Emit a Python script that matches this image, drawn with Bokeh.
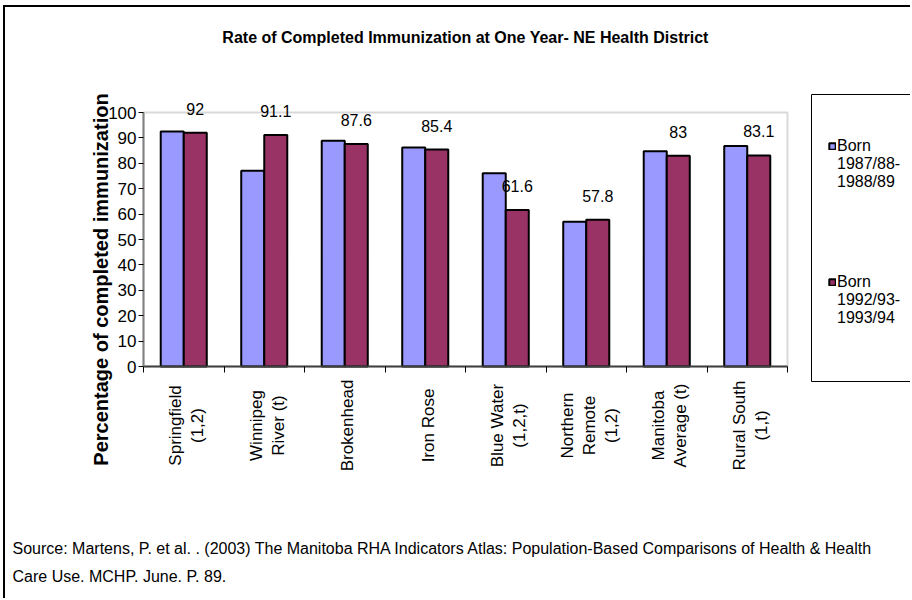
import numpy as np
from bokeh.plotting import figure
from bokeh.models import (Range1d, FixedTicker, LinearAxis, Legend, LegendItem,
                          BoxAnnotation, ColumnDataSource, Label)
from bokeh.core.properties import value
from bokeh.embed import file_html
from bokeh.resources import INLINE

# ---------------- data ----------------
categories = ["Springfield\n(1,2)", "Winnipeg\nRiver (t)", "Brokenhead", "Iron Rose",
              "Blue Water\n(1,2,t)", "Northern\nRemote\n(1,2)", "Manitoba\nAverage (t)",
              "Rural South\n(1,t)"]
born_8789 = [92.5, 77.1, 88.9, 86.2, 76.1, 57.0, 84.7, 86.8]
born_9394 = [92.0, 91.1, 87.6, 85.4, 61.6, 57.8, 83.0, 83.1]
label_9394 = ["92", "91.1", "87.6", "85.4", "61.6", "57.8", "83", "83.1"]
series_names = ["Born\n1987/88-\n1988/89", "Born\n1992/93-\n1993/94"]
y_ticks = list(range(0, 101, 10))
y_tick_labels = [str(t) for t in y_ticks]
title_text = "Rate of Completed Immunization at One Year- NE Health District"
y_title = "Percentage of completed immunization"
source_lines = ["Source:  Martens, P. et al. . (2003) The Manitoba RHA Indicators Atlas: Population-Based Comparisons of Health & Health",
                "Care Use. MCHP. June.  P. 89."]

# ---------------- layout (page pixels) ----------------
PAGE_W, PAGE_H = 912, 600
OX, OY = 5, 7                       # canvas offset (outer border drawn by CSS)
W, H = PAGE_W - OX, PAGE_H - OY
n = len(categories)
X0, BOTTOM, Y100 = 143, 366, 112    # page px of x=0, y=0, y=100
PXX = 80.5                          # px per category
PXY = (BOTTOM - Y100) / 100.0
MB_LEFT, MB_BOTTOM = 6, 10          # small side panels that only hold tick marks
FRAME_L = OX + MB_LEFT
FRAME_B = PAGE_H - MB_BOTTOM

def dx(px):
    return (px - X0) / PXX

def dy(py):
    return (BOTTOM - py) / PXY

BLUE = "#9999FF"
RED = "#993366"
FONT = "Liberation Sans"

p = figure(width=W, height=H, output_backend="svg", toolbar_location=None,
           title=None, x_range=Range1d(dx(FRAME_L), dx(PAGE_W)),
           y_range=Range1d(dy(FRAME_B), dy(OY)),
           min_border_left=MB_LEFT, min_border_right=0, min_border_top=0,
           min_border_bottom=MB_BOTTOM, x_axis_type=None, y_axis_type=None)
p.styles = {"border-left": "2px solid black", "border-top": "2px solid black",
            "margin-left": "3px", "margin-top": "5px"}
p.background_fill_color = "white"
p.border_fill_color = "white"
p.outline_line_color = None

centers = np.arange(n) + 0.5
bw = 0.286
src = ColumnDataSource(dict(xb=centers - bw / 2, xr=centers + bw / 2,
                            b=born_8789, r=born_9394, lab=label_9394))

# plot-area border
p.add_layout(BoxAnnotation(left=0, right=n, bottom=0, top=100, fill_alpha=0,
                           line_color="#808080", line_width=2, level="underlay"))

r1 = p.vbar(x="xb", top="b", width=bw, source=src, fill_color=BLUE,
            line_color="black", line_width=2)
r2 = p.vbar(x="xr", top="r", width=bw, source=src, fill_color=RED,
            line_color="black", line_width=2)

# value labels above the second series
p.text(x="xr", y="r", text="lab", source=src, y_offset=-24, text_align="center",
       text_baseline="middle", text_font=value(FONT), text_font_size="16px",
       text_color="black")

# x axis (line + boundary ticks) at y = 0
xax = LinearAxis(ticker=FixedTicker(ticks=[], minor_ticks=list(range(n + 1))),
                 fixed_location=0)
xax.bounds = (0, n)
xax.major_tick_line_color = None
xax.minor_tick_line_color = "black"
xax.minor_tick_out = 6
xax.minor_tick_in = 0
xax.axis_line_color = "#404040"
xax.axis_line_width = 2
xax.major_label_standoff = 0
p.add_layout(xax, "below")

# category labels, rotated, centred on a common line under the axis
cat_src = ColumnDataSource(dict(x=centers, y=[0] * n, t=categories))
p.text(x="x", y="y", text="t", source=cat_src, angle=np.pi / 2, y_offset=59,
       x_offset=3, text_align="center", text_baseline="middle",
       text_font=value(FONT), text_font_size="17px", text_color="black",
       text_line_height=1.15)

# y axis at x = 0
yax = LinearAxis(ticker=FixedTicker(ticks=[], minor_ticks=y_ticks), fixed_location=0)
yax.bounds = (0, 100)
yax.major_tick_line_color = None
yax.minor_tick_out = 5
yax.minor_tick_in = 0
yax.minor_tick_line_color = "black"
yax.axis_line_color = "#808080"
yax.axis_line_width = 2
yax.major_label_standoff = 0
p.add_layout(yax, "left")

ytl_src = ColumnDataSource(dict(x=[0] * len(y_ticks), y=y_ticks, t=y_tick_labels))
p.text(x="x", y="y", text="t", source=ytl_src, x_offset=-7, text_align="right",
       text_baseline="middle", text_font=value(FONT), text_font_size="17px",
       text_color="black")

p.xgrid.ticker = FixedTicker(ticks=list(range(n + 1)))
p.xgrid.bounds = (0, 100)
p.xgrid.grid_line_color = "black"
p.xgrid.grid_line_width = 1
p.ygrid.grid_line_color = None

# legend frame: open to the right (cut by the page edge)
p.line(x=[dx(990), dx(811), dx(811), dx(990)], y=[dy(94), dy(94), dy(381), dy(381)],
       line_color="black", line_width=1)

LEG_FS = 16
line_h = LEG_FS * 1.167
entry_h = 5 * line_h
top1 = 141 - 2.5 * line_h
top2 = 280 - 2.5 * line_h
legend = Legend(items=[LegendItem(label="\n\n" + series_names[0], renderers=[r1]),
                       LegendItem(label="\n\n" + series_names[1], renderers=[r2])],
                location=(828 - FRAME_L, int(round(FRAME_B - (top2 + entry_h)))),
                orientation="vertical", border_line_color=None,
                background_fill_alpha=0, padding=0, margin=0,
                spacing=int(round(top2 - (top1 + entry_h))),
                glyph_width=8, glyph_height=8, label_standoff=1,
                label_text_font=FONT, label_text_font_size=f"{LEG_FS}px",
                label_text_color="black")
p.add_layout(legend, "center")

# title, y-axis title, source notes
p.add_layout(Label(x=dx(465), y=dy(37), text=title_text, text_align="center",
                   text_baseline="middle", text_font=FONT, text_font_style="bold",
                   text_font_size="16px", text_color="black"))
p.add_layout(Label(x=dx(100), y=dy(279), text=y_title, angle=np.pi / 2,
                   text_align="center", text_baseline="middle", text_font=FONT,
                   text_font_style="bold", text_font_size="20px", text_color="black"))
for t, py in zip(source_lines, [548, 576]):
    p.add_layout(Label(x=dx(12), y=dy(py), text=t, text_align="left",
                       text_baseline="middle", text_font=FONT,
                       text_font_size="16px", text_color="black"))

open("out.html", "w").write(file_html(p, INLINE))
